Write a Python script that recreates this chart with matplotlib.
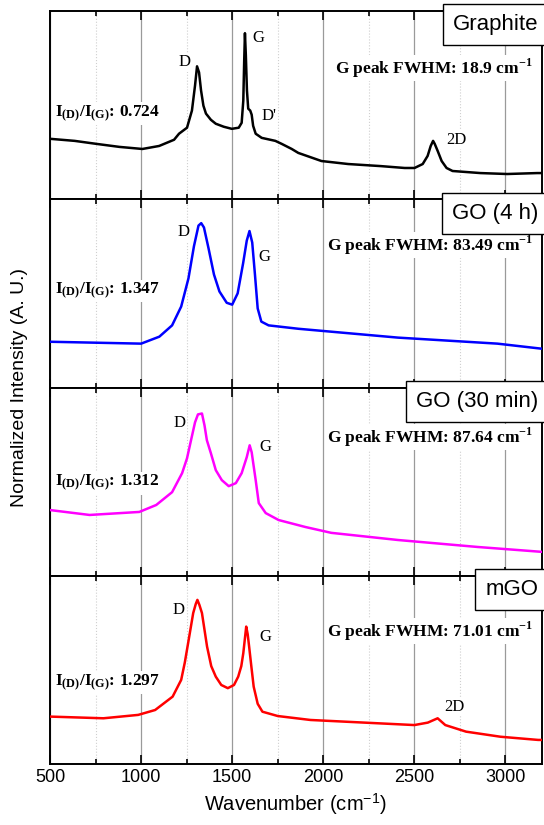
import numpy as np
import matplotlib.pyplot as plt
from matplotlib.offsetbox import AnchoredText
from matplotlib.ticker import MultipleLocator

plt.rcParams['font.family'] = 'Liberation Sans'
plt.rcParams['mathtext.fontset'] = 'custom'
plt.rcParams['mathtext.rm'] = 'Liberation Serif'
plt.rcParams['mathtext.bf'] = 'Liberation Serif:bold'
plt.rcParams['mathtext.sf'] = 'Liberation Sans'

# --------------------------------- #
# Raman spectra, normalized intensity (arb. units)

graphite_wn = [500, 635, 755, 881, 1007, 1099, 1181, 1208, 1252, 1279, 1296, 1307, 1318, 1329,
               1342, 1356, 1383, 1410, 1454, 1498, 1536, 1552, 1561, 1566, 1570, 1575, 1581,
               1588, 1599, 1607, 1615, 1629, 1662, 1737, 1772, 1827, 1863, 1990, 2137, 2316,
               2447, 2501, 2546, 2573, 2590, 2603, 2612, 2628, 2650, 2677, 2710, 2863, 3010,
               3174, 3200]
graphite_int = [0.321, 0.310, 0.294, 0.278, 0.267, 0.283, 0.316, 0.348, 0.380, 0.471, 0.604,
                0.706, 0.674, 0.578, 0.497, 0.455, 0.422, 0.401, 0.385, 0.374, 0.380, 0.406,
                0.524, 0.738, 0.882, 0.765, 0.578, 0.481, 0.471, 0.449, 0.390, 0.348, 0.326,
                0.310, 0.294, 0.267, 0.246, 0.203, 0.187, 0.176, 0.166, 0.166, 0.187, 0.230,
                0.283, 0.310, 0.294, 0.257, 0.203, 0.166, 0.150, 0.139, 0.134, 0.139, 0.139]

go4h_wn = [500, 750, 1000, 1100, 1170, 1220, 1260, 1290, 1315, 1330, 1345, 1370, 1400, 1430,
           1470, 1500, 1530, 1560, 1580, 1595, 1610, 1625, 1640, 1660, 1700, 1863, 2410,
           2956, 3200]
go4h_int = [0.243, 0.238, 0.233, 0.270, 0.330, 0.430, 0.580, 0.750, 0.860, 0.873, 0.850,
            0.740, 0.600, 0.510, 0.450, 0.440, 0.500, 0.660, 0.780, 0.831, 0.770, 0.600,
            0.420, 0.350, 0.330, 0.312, 0.265, 0.233, 0.206]

go30_wn = [500, 717, 990, 1083, 1170, 1225, 1252, 1274, 1296, 1312, 1334, 1348, 1361, 1383,
           1410, 1443, 1481, 1520, 1552, 1580, 1596, 1607, 1629, 1646, 1684, 1755, 1902,
           2044, 2410, 2847, 3200]
go30_int = [0.349, 0.323, 0.339, 0.376, 0.444, 0.545, 0.624, 0.720, 0.815, 0.857, 0.862,
            0.799, 0.720, 0.651, 0.561, 0.508, 0.476, 0.492, 0.545, 0.630, 0.693, 0.656,
            0.508, 0.386, 0.333, 0.296, 0.259, 0.228, 0.190, 0.153, 0.127]

mgo_wn = [500, 793, 984, 1077, 1173, 1220, 1240, 1258, 1286, 1300, 1309, 1320, 1334, 1362,
          1385, 1410, 1440, 1476, 1510, 1533, 1550, 1561, 1577, 1585, 1593, 1605, 1618, 1640,
          1666, 1750, 1930, 2310, 2500, 2574, 2628, 2670, 2784, 2973, 3180, 3200]
mgo_int = [0.252, 0.243, 0.261, 0.287, 0.358, 0.447, 0.540, 0.642, 0.802, 0.850, 0.872,
           0.845, 0.802, 0.624, 0.520, 0.464, 0.420, 0.403, 0.420, 0.464, 0.520, 0.589,
           0.730, 0.690, 0.624, 0.520, 0.411, 0.320, 0.278, 0.255, 0.234, 0.216, 0.207,
           0.220, 0.243, 0.207, 0.172, 0.145, 0.128, 0.128]

samples = ["Graphite", "GO (4 h)", "GO (30 min)", "mGO"]
colors = ["black", "blue", "magenta", "red"]
ratios = ["0.724", "1.347", "1.312", "1.297"]
fwhm = ["18.9", "83.49", "87.64", "71.01"]

# peak labels: (text, wavenumber, height)
peak_labels = [
    [("D", 1236, 0.727), ("G", 1645, 0.856), ("D'", 1700, 0.444), ("2D", 2732, 0.316)],
    [("D", 1233, 0.825), ("G", 1678, 0.693)],
    [("D", 1209, 0.810), ("G", 1683, 0.683)],
    [("D", 1204, 0.819), ("G", 1683, 0.676), ("2D", 2721, 0.303)],
]
ratio_y = [0.455, 0.513, 0.492, 0.431]
fwhm_y = [0.695, 0.757, 0.735, 0.707]

spectra = [(graphite_wn, graphite_int), (go4h_wn, go4h_int), (go30_wn, go30_int), (mgo_wn, mgo_int)]

# --------------------------------- #

fig, axes = plt.subplots(4, 1, sharex=True, figsize=(5.44, 8.25), dpi=100)
fig.subplots_adjust(left=0.092, right=0.996, top=0.9867, bottom=0.0739, hspace=0)

for i, ax in enumerate(axes):
    wn, inten = spectra[i]
    ax.plot(wn, inten, color=colors[i], lw=1.8, zorder=3)

    ax.set_xlim(500, 3200)
    ax.set_ylim(0, 1)
    ax.set_yticks([])
    ax.xaxis.set_major_locator(MultipleLocator(500))
    ax.xaxis.set_minor_locator(MultipleLocator(250))
    ax.tick_params(axis='x', which='both', direction='in', top=True, bottom=True, width=1.2)
    ax.tick_params(axis='x', which='major', length=6.5, labelsize=13)
    ax.tick_params(axis='x', which='minor', length=3.5)
    ax.grid(True, axis='x', which='major', color='#9a9a9a', lw=0.9, zorder=0)
    ax.grid(True, axis='x', which='minor', color='#cfcfcf', lw=0.8, ls=':', zorder=0)
    for s in ax.spines.values():
        s.set_linewidth(1.4)

    at = AnchoredText(samples[i], loc='upper right', borderpad=0, pad=0.15,
                      prop=dict(size=16, family='Liberation Sans'))
    at.patch.set_linewidth(1.0)
    at.patch.set_boxstyle('square')
    at.set_zorder(5)
    ax.add_artist(at)

    txt_bg = dict(fc='white', ec='none', pad=1)
    for lab, x, y in peak_labels[i]:
        ax.text(x, y, lab, family='Liberation Serif', fontsize=12, ha='center', va='center',
                bbox=txt_bg, zorder=2)
    ax.text(525, ratio_y[i], r"$\mathbf{I_{(D)}/I_{(G)}}$: " + ratios[i], family='Liberation Serif',
            fontweight='bold', fontsize=12.5, ha='left', va='center', bbox=txt_bg, zorder=2)
    ax.text(3150, fwhm_y[i], "G peak FWHM: " + fwhm[i] + r" cm$^{\mathbf{-1}}$",
            family='Liberation Serif', fontweight='bold', fontsize=12.5, ha='right', va='center',
            bbox=txt_bg, zorder=2)

axes[-1].set_xlabel(r"Wavenumber (cm$^{\mathsf{-1}}$)", fontsize=14.5, labelpad=4)
fig.text(0.035, 0.53, "Normalized Intensity (A. U.)", rotation=90, fontsize=14,
         ha='center', va='center')

plt.savefig("out.png", dpi=100)
